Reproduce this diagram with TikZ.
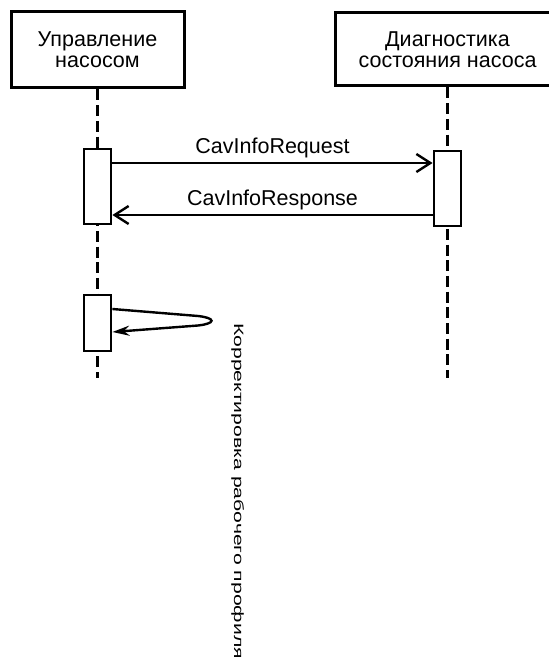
\documentclass[tikz,border=0pt]{standalone}
\usepackage{fontspec}
\setmainfont{Liberation Sans}
\usetikzlibrary{arrows.meta}

\begin{document}
\begin{tikzpicture}[x=1pt,y=-1pt,
  obj/.style={draw,line width=3pt,align=center,inner sep=0pt,
              font=\fontsize{21.5}{21}\selectfont},
  act/.style={draw,fill=white,line width=2.8pt,minimum width=27pt,inner sep=0pt},
  life/.style={line width=2.8pt,dash pattern=on 11pt off 4.7pt},
  msg/.style={line width=2.4pt,-{Straight Barb[length=14pt,width=18pt]}},
  lbl/.style={font=\fontsize{21.5}{21}\selectfont}]
\useasboundingbox (0,0) rectangle (548,668);

%% objects
\node[obj,minimum width=173pt,minimum height=76pt] (ctrl) at (97.5,50) {Управление\\насосом};
\node[obj,minimum width=225pt,minimum height=73pt] (diag) at (447.5,49.5) {Диагностика\\состояния насоса};
\coordinate (ctrl-end) at (97.5,378);
\coordinate (diag-end) at (447.5,378);
\foreach \obj in {ctrl,diag}
  \draw[life] (\obj.south) -- (\obj-end);

%% activations
\node[act,minimum height=75pt] (act1) at (97.5,186.5) {};
\node[act,minimum height=75pt] (act2) at (447.5,188.5) {};
\node[act,minimum height=56pt] (act3) at (97.5,323) {};

%% messages
\draw[msg] ([yshift=23.5pt]act1.east) -- ([yshift=23.5pt]act1.east -| act2.west)
  node[lbl,midway,above=1pt] {CavInfoRequest};
\draw[msg] ([yshift=-26.5pt]act2.west) -- ([yshift=-26.5pt]act2.west -| act1.east)
  node[lbl,midway,above=1pt] {CavInfoResponse};

%% self call
\draw[line width=2.4pt,-{Stealth[length=17pt,width=10pt]}] ([yshift=14pt]act3.east) -- (198,316)
  .. controls (216,318) and (216,323.5) .. (198,325.5) -- ([yshift=-9pt]act3.east);
\node[rotate=-90,anchor=base west,inner sep=0pt,font=\fontsize{13.5}{14}\selectfont] (note) at (234,323)
  {\scalebox{1.57}[1]{Корректировка рабочего профиля}};
\end{tikzpicture}
\end{document}
